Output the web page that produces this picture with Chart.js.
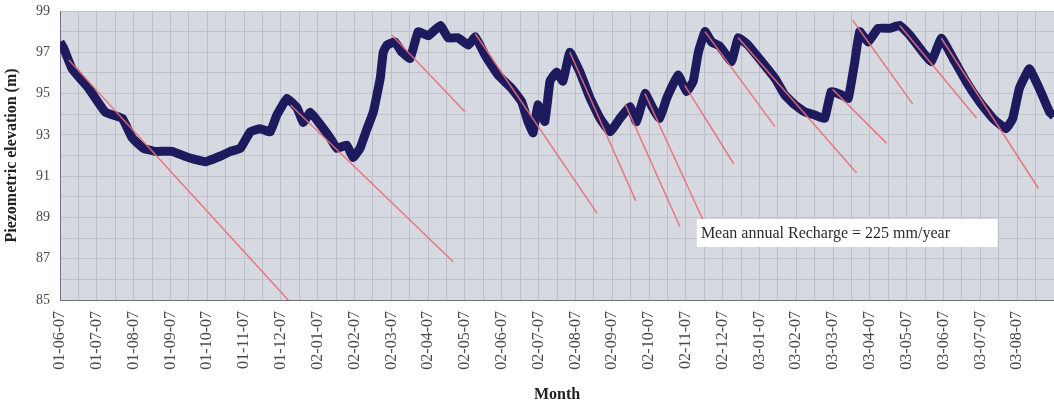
<!DOCTYPE html>
<html>
<head>
<meta charset="utf-8">
<script src="https://cdn.jsdelivr.net/npm/chart.js@4/dist/chart.umd.min.js"></script>
<style>
  html, body { margin: 0; padding: 0; background: #fff; }
  #wrap { width: 1054px; height: 405px; position: relative; }
</style>
</head>
<body>
<div id="wrap"><canvas id="piezoChart" width="1054" height="405"></canvas></div>
<script>
// month tick labels (yy-mm-dd), one per month starting 2001-06-07
const monthLabels = ['01-06-07', '01-07-07', '01-08-07', '01-09-07', '01-10-07', '01-11-07', '01-12-07',
    '02-01-07', '02-02-07', '02-03-07', '02-04-07', '02-05-07', '02-06-07', '02-07-07', '02-08-07',
    '02-09-07', '02-10-07', '02-11-07', '02-12-07', '03-01-07', '03-02-07', '03-03-07', '03-04-07',
    '03-05-07', '03-06-07', '03-07-07', '03-08-07'];

// piezometric level (x = months since 01-06-07)
const levelMonths = [0, 0.1, 0.33, 0.78, 1.23, 1.69, 1.96, 2.27, 2.59, 3.04, 3.49, 3.95, 4.40, 4.63, 4.90,
    5.17, 5.44, 5.71, 5.89, 6.17, 6.44, 6.61, 6.80, 7.07, 7.34, 7.52, 7.79, 7.96, 8.15, 8.34, 8.51,
    8.70, 8.78, 8.88, 9.10, 9.29, 9.51, 9.73, 10.00, 10.33, 10.54, 10.81, 11.09, 11.28, 11.55, 11.90,
    12.27, 12.54, 12.71, 12.85, 12.98, 13.17, 13.31, 13.49, 13.66, 13.85, 14.12, 14.40, 14.67, 14.94,
    15.21, 15.48, 15.66, 15.89, 16.10, 16.29, 16.48, 16.79, 17.02, 17.20, 17.34, 17.52, 17.70, 17.92,
    18.24, 18.42, 18.69, 19.06, 19.42, 19.69, 19.96, 20.23, 20.50, 20.77, 20.95, 21.23, 21.41, 21.59,
    21.72, 21.95, 22.22, 22.54, 22.81, 23.08, 23.44, 23.67, 23.94, 24.26, 24.62, 24.98, 25.34, 25.70,
    25.88, 26.06, 26.33, 26.60, 26.88, 27.0];
const levelValues = [97.5, 97.2, 96.2, 95.25, 94.1, 93.8, 92.85, 92.35, 92.2, 92.2, 91.9, 91.7, 92.0, 92.2, 92.35,
    93.15, 93.3, 93.15, 93.96, 94.77, 94.3, 93.6, 94.1, 93.5, 92.85, 92.35, 92.5, 91.9, 92.35, 93.3, 94.1,
    95.75, 97.0, 97.35, 97.5, 97.0, 96.7, 98.0, 97.8, 98.3, 97.7, 97.7, 97.35, 97.75, 96.85, 95.9,
    95.25, 94.6, 93.65, 93.1, 94.45, 93.65, 95.6, 96.05, 95.6, 97.0, 96.05, 94.77, 93.8, 93.15,
    93.8, 94.36, 93.64, 95.0, 94.3, 93.8, 94.77, 95.9, 95.1, 95.6, 97.0, 98.0, 97.5, 97.3,
    96.55, 97.7, 97.35, 96.55, 95.74, 94.93, 94.45, 94.12, 93.96, 93.8, 95.1, 94.93, 94.77, 96.55,
    98.0, 97.5, 98.16, 98.16, 98.3, 97.84, 97.0, 96.55, 97.68, 96.7, 95.57, 94.6, 93.8, 93.3,
    93.8, 95.25, 96.2, 95.25, 94.1, 93.9];

// recession lines (straight segments)
const recessionStartMonth = [0.24, 6.26, 9.01, 11.28, 13.85, 15.35, 15.89, 16.97, 17.52, 18.42, 20.99, 21.53, 22.81, 23.94];
const recessionStartLevel = [96.63, 94.45, 97.84, 97.9, 97.0, 94.5, 95.0, 95.4, 98.0, 97.7, 95.2, 98.55, 98.3, 97.68];
const recessionEndMonth = [6.20, 10.68, 11.0, 14.59, 15.64, 16.84, 17.46, 18.30, 19.42, 21.64, 22.45, 23.16, 24.90, 26.58];
const recessionEndLevel = [85.0, 86.85, 94.12, 89.2, 89.8, 88.55, 88.9, 91.6, 93.4, 91.15, 92.6, 94.5, 93.8, 90.4];

const noteText = 'Mean annual Recharge = 225 mm/year';

const serif = "'Liberation Serif', 'Times New Roman', serif";

const plotBackground = {
    id: 'plotBackground',
    beforeDraw(chart) {
        const { ctx, chartArea } = chart;
        ctx.save();
        ctx.fillStyle = '#d7d9e1';
        ctx.fillRect(chartArea.left, chartArea.top, chartArea.right - chartArea.left, chartArea.bottom - chartArea.top);
        ctx.restore();
    }
};

const noteBox = {
    id: 'noteBox',
    afterDatasetsDraw(chart) {
        const { ctx, scales } = chart;
        const x0 = scales.x.getPixelForValue(17.30);
        const x1 = scales.x.getPixelForValue(25.47);
        const y0 = scales.y.getPixelForValue(88.92);
        const y1 = scales.y.getPixelForValue(87.57);
        ctx.save();
        ctx.fillStyle = '#ffffff';
        ctx.fillRect(x0, y0, x1 - x0, y1 - y0);
        ctx.fillStyle = '#2a2a2a';
        ctx.font = '16px ' + serif;
        ctx.textBaseline = 'middle';
        ctx.fillText(noteText, x0 + 4, (y0 + y1) / 2 + 1);
        ctx.restore();
    }
};

// drop the label overhang padding so the plot runs to the canvas edge
function noPadding(scale) {
    scale.paddingLeft = 0;
    scale.paddingRight = 0;
    scale.paddingTop = 0;
    scale.paddingBottom = 0;
}

const levelPoints = levelMonths.map((m, i) => ({ x: m, y: levelValues[i] }));

const recessionSets = recessionStartMonth.map((m, i) => ({
    data: [{ x: m, y: recessionStartLevel[i] }, { x: recessionEndMonth[i], y: recessionEndLevel[i] }],
    borderColor: 'rgba(232, 110, 118, 0.9)',
    borderWidth: 1.5,
    pointRadius: 0,
    tension: 0,
    order: 1
}));

const ctx = document.getElementById('piezoChart').getContext('2d');
new Chart(ctx, {
    type: 'line',
    data: {
        datasets: [
            {
                data: levelPoints,
                borderColor: '#1d1b5e',
                borderWidth: 9,
                borderJoinStyle: 'round',
                borderCapStyle: 'butt',
                pointRadius: 0,
                tension: 0.1,
                order: 2
            },
            ...recessionSets
        ]
    },
    options: {
        responsive: false,
        animation: false,
        layout: { padding: { top: 11, right: 0, left: 0, bottom: 0 } },
        plugins: {
            legend: { display: false },
            tooltip: { enabled: false }
        },
        scales: {
            x: {
                type: 'linear',
                min: 0,
                max: 27,
                afterFit: scale => { scale.height = 105; noPadding(scale); },
                grid: { color: '#9d9eae', lineWidth: 1, drawTicks: false },
                border: { color: '#6e6f80' },
                ticks: {
                    stepSize: 1,
                    autoSkip: false,
                    maxRotation: 90,
                    minRotation: 90,
                    padding: 11,
                    color: '#4a4a4a',
                    font: { family: serif, size: 16 },
                    callback: value => monthLabels[value] || ''
                },
                title: {
                    display: true,
                    text: 'Month',
                    color: '#222',
                    font: { family: serif, size: 16, weight: 'bold' },
                    padding: { top: 0, bottom: 1 }
                }
            },
            xMinor: {
                type: 'linear',
                position: 'top',
                min: 0,
                max: 27,
                afterFit: scale => { scale.height = 0; noPadding(scale); },
                grid: { color: '#bcbfca', lineWidth: 1, drawTicks: false },
                border: { display: false },
                ticks: { display: false, stepSize: 0.5 }
            },
            y: {
                min: 85,
                max: 99,
                afterFit: scale => { scale.width = 60; noPadding(scale); },
                grid: {
                    drawTicks: false,
                    color: c => c.tick && c.tick.value === 87 ? '#6b6d86' : '#9d9eae'
                },
                border: { color: '#6e6f80' },
                ticks: {
                    stepSize: 2,
                    padding: 10,
                    color: '#4a4a4a',
                    font: { family: serif, size: 14 }
                },
                title: {
                    display: true,
                    text: 'Piezometric elevation (m)',
                    color: '#222',
                    font: { family: serif, size: 16, weight: 'bold' },
                    padding: { top: 2, bottom: 0 }
                }
            },
            yMinor: {
                position: 'right',
                min: 85,
                max: 99,
                afterFit: scale => { scale.width = 0; noPadding(scale); },
                grid: { color: '#c0c2cc', lineWidth: 1, drawTicks: false },
                border: { display: false },
                ticks: { display: false, stepSize: 1 }
            }
        }
    },
    plugins: [plotBackground, noteBox]
});
</script>
</body>
</html>
